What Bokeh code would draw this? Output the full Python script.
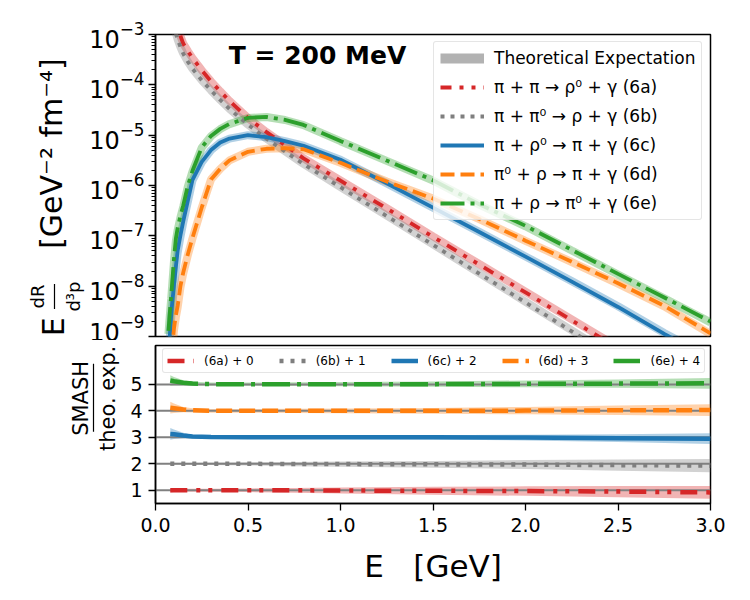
import numpy as np
from bokeh.plotting import figure
from bokeh.layouts import column, row
from bokeh.models import (Range1d, FixedTicker, Legend, LegendItem, Label,
                          PrintfTickFormatter)
from bokeh.core.properties import value
from bokeh.embed import file_html
from bokeh.resources import INLINE

FONT = "DejaVu Sans"

# photon energy grid [GeV] for the rates
energy = [0.07, 0.075, 0.08, 0.085, 0.09, 0.10, 0.11, 0.12, 0.135, 0.15,
          0.175, 0.20, 0.25, 0.30, 0.35, 0.40, 0.50, 0.60, 0.70, 0.80,
          1.00, 1.25, 1.50, 1.75, 2.00, 2.25, 2.50, 2.75, 3.00]

# theoretical rates E dR/d^3p [GeV^-2 fm^-4] at T = 200 MeV
rate_6a = [6.31e-3, 5.25e-3, 4.47e-3, 3.72e-3, 3.16e-3, 2.40e-3, 1.78e-3, 1.32e-3, 9.33e-4, 6.61e-4,
           4.68e-4, 3.39e-4, 1.95e-4, 1.17e-4, 7.41e-5, 4.79e-5, 2.19e-5, 1.15e-5, 6.31e-6, 3.47e-6,
           1.26e-6, 3.55e-7, 9.77e-8, 2.75e-8, 7.76e-9, 2.19e-9, 6.17e-10, 1.74e-10, 4.90e-11]
rate_6b = [3.98e-3, 3.31e-3, 2.82e-3, 2.34e-3, 2.00e-3, 1.41e-3, 1.05e-3, 7.94e-4, 5.62e-4, 4.17e-4,
           2.88e-4, 2.09e-4, 1.23e-4, 7.76e-5, 5.01e-5, 3.31e-5, 1.62e-5, 8.51e-6, 4.79e-6, 2.69e-6,
           9.33e-7, 2.51e-7, 6.76e-8, 1.82e-8, 4.90e-9, 1.32e-9, 3.55e-10, 9.55e-11, 2.57e-11]
rate_6c = [3.16e-10, 6.76e-10, 1.32e-9, 2.40e-9, 3.98e-9, 9.55e-9, 2.19e-8, 4.68e-8, 9.55e-8, 1.82e-7,
           4.79e-7, 1.26e-6, 2.88e-6, 5.01e-6, 7.08e-6, 8.51e-6, 1.00e-5, 9.12e-6, 7.59e-6, 6.17e-6,
           3.24e-6, 1.10e-6, 3.63e-7, 1.20e-7, 3.89e-8, 1.26e-8, 3.98e-9, 1.17e-9, 3.80e-10]
rate_6d = [2.51e-11, 6.31e-11, 1.41e-10, 2.82e-10, 5.25e-10, 1.32e-9, 2.40e-9, 3.80e-9, 9.55e-9, 1.78e-8,
           4.17e-8, 8.91e-8, 3.63e-7, 1.32e-6, 2.14e-6, 3.16e-6, 4.68e-6, 5.37e-6, 5.50e-6, 5.25e-6,
           2.82e-6, 1.20e-6, 5.50e-7, 2.14e-7, 7.94e-8, 3.02e-8, 1.12e-8, 3.98e-9, 1.12e-9]
rate_6e = [1.12e-9, 2.00e-9, 3.47e-9, 5.75e-9, 1.00e-8, 3.16e-8, 7.94e-8, 1.32e-7, 2.34e-7, 3.80e-7,
           9.55e-7, 1.91e-6, 5.62e-6, 9.55e-6, 1.32e-5, 1.66e-5, 2.19e-5, 2.29e-5, 2.00e-5, 1.58e-5,
           7.59e-6, 3.09e-6, 1.26e-6, 4.17e-7, 1.55e-7, 5.13e-8, 1.70e-8, 5.75e-9, 1.91e-9]

# SMASH / theory ratios with their uncertainties
ratio_energy = [0.08, 0.10, 0.15, 0.20, 0.30, 0.50, 0.75, 1.00, 1.50, 2.00, 2.50, 3.00]
ratio_6a = [1.00, 1.00, 1.00, 1.00, 1.00, 1.00, 1.00, 0.99, 0.98, 0.97, 0.95, 0.92]
err_6a = [0.08, 0.07, 0.06, 0.06, 0.06, 0.07, 0.09, 0.11, 0.15, 0.18, 0.21, 0.24]
ratio_6b = [1.00, 1.00, 1.00, 1.00, 1.00, 1.00, 0.99, 0.99, 0.98, 0.97, 0.95, 0.93]
err_6b = [0.04, 0.04, 0.04, 0.04, 0.05, 0.06, 0.08, 0.10, 0.13, 0.17, 0.21, 0.25]
ratio_6c = [1.13, 1.12, 1.07, 1.03, 1.01, 1.00, 1.00, 1.00, 1.00, 0.99, 0.97, 0.95]
err_6c = [0.22, 0.18, 0.10, 0.06, 0.05, 0.05, 0.05, 0.06, 0.08, 0.11, 0.15, 0.20]
ratio_6d = [1.12, 1.10, 1.05, 1.02, 1.00, 1.00, 1.00, 1.00, 1.00, 1.01, 1.02, 1.03]
err_6d = [0.22, 0.18, 0.10, 0.08, 0.07, 0.07, 0.08, 0.09, 0.11, 0.14, 0.18, 0.22]
ratio_6e = [1.15, 1.12, 1.06, 1.03, 1.01, 1.01, 1.01, 1.01, 1.01, 1.02, 1.03, 1.04]
err_6e = [0.20, 0.16, 0.10, 0.07, 0.06, 0.06, 0.07, 0.08, 0.10, 0.13, 0.16, 0.20]

process_labels = ["π + π → ρ⁰ + γ (6a)", "π + π⁰ → ρ + γ (6b)", "π + ρ⁰ → π + γ (6c)",
                  "π⁰ + ρ → π + γ (6d)", "π + ρ → π⁰ + γ (6e)"]
ratio_labels = ["(6a) + 0", "(6b) + 1", "(6c) + 2", "(6d) + 3", "(6e) + 4"]
ratio_offsets = [0, 1, 2, 3, 4]

colors = ["#d62728", "#7f7f7f", "#1f77b4", "#ff7f0e", "#2ca02c"]
dash_top = ["11 8 4 8 4 8", "4 6", "solid", "14 6", "24 6 4 6"]
dash_bottom = ["17 9 4 8 4 9", "4 7", "solid", "16 7", "28 7 4 7"]

rates = [rate_6a, rate_6b, rate_6c, rate_6d, rate_6e]
ratios = [ratio_6a, ratio_6b, ratio_6c, ratio_6d, ratio_6e]
errors = [err_6a, err_6b, err_6c, err_6d, err_6e]


def style_axis(ax, size):
    ax.axis_line_color = "black"
    ax.axis_line_width = 1.5
    ax.major_tick_line_color = "black"
    ax.major_tick_line_width = 1.3
    ax.major_tick_in = 0
    ax.major_tick_out = 7
    ax.minor_tick_line_color = "black"
    ax.minor_tick_line_width = 1
    ax.minor_tick_in = 0
    ax.minor_tick_out = 4
    ax.major_label_text_font = FONT
    ax.major_label_text_font_size = size
    ax.major_label_text_color = "black"


def frame_style(p):
    p.xgrid.visible = False
    p.ygrid.visible = False
    p.outline_line_color = "black"
    p.outline_line_width = 1.5
    p.outline_line_alpha = 1
    p.background_fill_color = "white"
    p.border_fill_color = "white"


def label_strip(width, height):
    # blank strip that carries the rotated axis titles
    s = figure(width=width, height=height, x_range=Range1d(0, width), y_range=Range1d(0, height),
               x_axis_location=None, y_axis_location=None, output_backend="svg",
               toolbar_location=None, title=None, min_border=0)
    s.grid.visible = False
    s.outline_line_color = None
    s.background_fill_color = "white"
    s.border_fill_color = "white"
    return s


def vtext(s, x, y, txt, size):
    s.text(x=[x], y=[y], text=[txt], angle=np.pi / 2, text_align="center",
           text_baseline="middle", text_font=value(FONT), text_font_size=value(size),
           text_color="black")


# ---------------- upper panel: rates ----------------
p1 = figure(width=664, height=340, x_range=Range1d(0, 3), y_range=Range1d(1e-9, 1e-3),
            y_axis_type="log", output_backend="svg", toolbar_location=None, title=None,
            min_border_left=69, min_border_right=40, min_border_top=34, min_border_bottom=4)
frame_style(p1)
p1.xaxis.visible = False
p1.yaxis.ticker = FixedTicker(ticks=[10.0 ** k for k in range(-9, -2)],
                              minor_ticks=[m * 10.0 ** k for k in range(-9, -3) for m in range(2, 10)])
style_axis(p1.yaxis[0], "24px")
p1.yaxis.major_label_standoff = 4

e_arr = np.array(energy)
for rate, c in zip(rates, colors):
    p1.line(e_arr, rate, line_color=c, line_width=8, line_alpha=0.35)

# legend key for the theory bands (no visible data of its own)
theo_key = p1.line([np.nan], [np.nan], line_color="#7f7f7f", line_width=10, line_alpha=0.6)

smash_top = []
for rate, ratio, c, d in zip(rates, ratios, colors, dash_top):
    smash = np.array(rate) * np.interp(e_arr, ratio_energy, ratio)
    smash_top.append(p1.line(e_arr, smash, line_color=c, line_width=3.8, line_dash=d))

leg1 = Legend(items=[LegendItem(label="Theoretical Expectation", renderers=[theo_key])] +
              [LegendItem(label=lab, renderers=[r]) for lab, r in zip(process_labels, smash_top)],
              location=(278, 116), orientation="vertical",
              label_text_font=FONT, label_text_font_size="17px", label_text_color="black",
              glyph_width=44, glyph_height=20, label_height=20, label_standoff=10,
              spacing=9, padding=6, border_line_color="#cccccc", border_line_width=1,
              background_fill_color="white", background_fill_alpha=0.8, border_radius=3)
p1.add_layout(leg1)

p1.add_layout(Label(x=162, y=281, x_units="screen", y_units="screen", text="T = 200 MeV",
                    text_font=FONT, text_font_size="25px", text_font_style="bold",
                    text_color="black", text_align="center", text_baseline="middle"))

# rotated title of the rate axis: E dR/d^3p  [GeV^-2 fm^-4]
lab1 = label_strip(86, 340)
vtext(lab1, 51, 206, "[GeV⁻²\u00a0fm⁻⁴]", "30px")
vtext(lab1, 53, 11, "E", "30px")
vtext(lab1, 37, 45, "dR", "18px")
vtext(lab1, 73, 45, "d³p", "18px")
lab1.segment(x0=[54], y0=[31], x1=[54], y1=[59], line_color="black", line_width=1.2)

# ---------------- lower panel: ratios ----------------
p2 = figure(width=625, height=260, x_range=p1.x_range, y_range=Range1d(0.5, 6.47),
            output_backend="svg", toolbar_location=None, title=None,
            min_border_left=30, min_border_right=40, min_border_top=5, min_border_bottom=97)
frame_style(p2)
p2.xaxis.ticker = FixedTicker(ticks=[0, 0.5, 1.0, 1.5, 2.0, 2.5, 3.0], minor_ticks=[])
p2.xaxis.formatter = PrintfTickFormatter(format="%.1f")
p2.yaxis.ticker = FixedTicker(ticks=[1, 2, 3, 4, 5], minor_ticks=[])
style_axis(p2.xaxis[0], "19px")
style_axis(p2.yaxis[0], "19px")
p2.xaxis.major_label_standoff = 7
p2.yaxis.major_label_standoff = 6
p2.xaxis.axis_label = "E\u00a0\u00a0\u00a0[GeV]"
p2.xaxis.axis_label_text_font = FONT
p2.xaxis.axis_label_text_font_size = "31px"
p2.xaxis.axis_label_text_font_style = "normal"
p2.xaxis.axis_label_text_color = "black"
p2.xaxis.axis_label_standoff = 13

re_arr = np.array(ratio_energy)
for ratio, err, off, c in zip(ratios, errors, ratio_offsets, colors):
    r = np.array(ratio) + off
    e = np.array(err)
    p2.varea(x=re_arr, y1=r - e, y2=r + e, fill_color=c, fill_alpha=0.35)

for off in ratio_offsets:
    p2.line([0, 3], [1 + off, 1 + off], line_color="#808080", line_width=2)

smash_bottom = []
for ratio, off, c, d in zip(ratios, ratio_offsets, colors, dash_bottom):
    smash_bottom.append(p2.line(re_arr, np.array(ratio) + off, line_color=c,
                                line_width=4.5, line_dash=d))

leg2 = Legend(items=[LegendItem(label=lab, renderers=[r]) for lab, r in zip(ratio_labels, smash_bottom)],
              location=(7, 130), orientation="horizontal",
              label_text_font=FONT, label_text_font_size="12px", label_text_color="black",
              glyph_width=27, glyph_height=15, label_height=15, label_standoff=10,
              spacing=25, padding=4, border_line_color="#cccccc", border_line_width=1,
              background_fill_color="white", background_fill_alpha=0.8, border_radius=3)
p2.add_layout(leg2)

# rotated title of the ratio axis: SMASH / theo. exp.
lab2 = label_strip(125, 260)
vtext(lab2, 80, 173, "SMASH", "21px")
vtext(lab2, 107, 173, "theo. exp.", "21px")
lab2.segment(x0=[93], y0=[118], x1=[93], y1=[230], line_color="black", line_width=1.2)

layout = column(row(lab1, p1, spacing=0), row(lab2, p2, spacing=0), spacing=0)
open("out.html", "w").write(file_html(layout, INLINE))
